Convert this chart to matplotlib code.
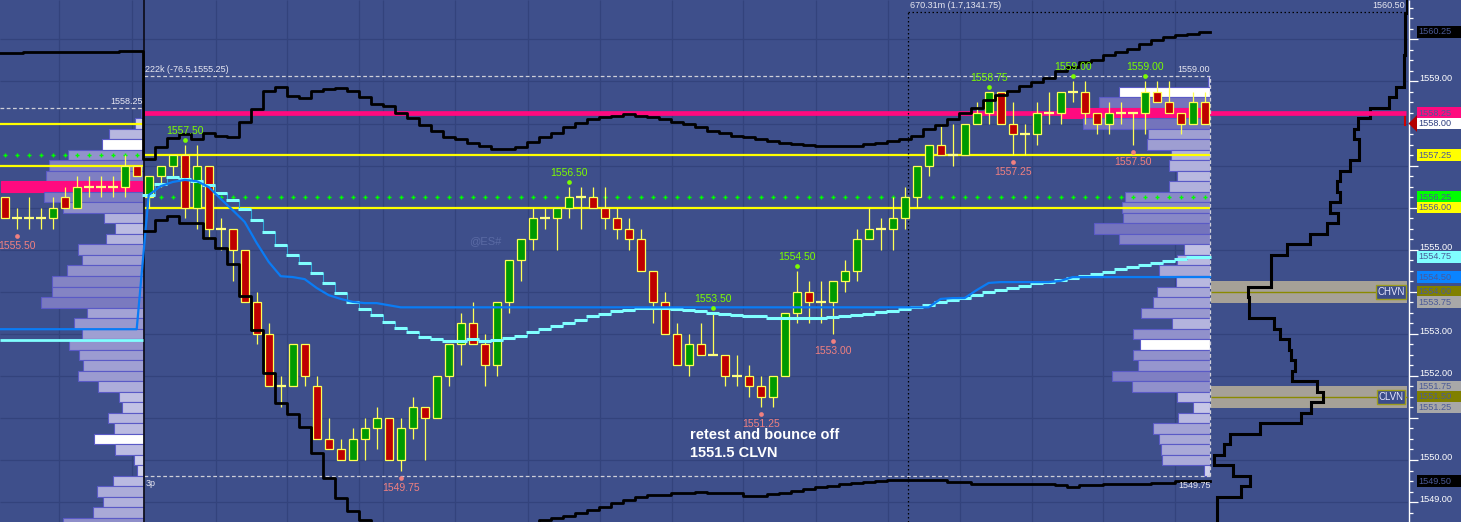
import numpy as np
import matplotlib
matplotlib.use("Agg")
import matplotlib.pyplot as plt
from matplotlib.patches import Rectangle, Polygon
from matplotlib.colors import to_rgb

plt.rcParams["font.family"] = ["Liberation Sans", "DejaVu Sans"]

# ---------------------------------------------------------------- data
# tail of the previous session (12 bars)
prev_open = [1556.25, 1555.75, 1555.75, 1555.75, 1555.75, 1556.25, 1556.0, 1556.5, 1556.5, 1556.5, 1556.5, 1557.0]
prev_high = [1556.25, 1556.0, 1556.25, 1556.0, 1556.25, 1556.5, 1556.75, 1556.75, 1556.75, 1556.75, 1557.25, 1557.0]
prev_low = [1555.75, 1555.5, 1555.5, 1555.5, 1555.5, 1556.0, 1556.0, 1556.25, 1556.25, 1556.25, 1556.25, 1556.75]
prev_close = [1555.75, 1555.75, 1555.75, 1555.75, 1556.0, 1556.0, 1556.5, 1556.5, 1556.5, 1556.5, 1557.0, 1556.75]

# current session (89 bars)
sess_open = [
    1556.25, 1556.75, 1557.0, 1557.25, 1556.0, 1557.0, 1555.5, 1555.5, 1555.0, 1553.75,
    1553.0, 1551.75, 1551.75, 1552.75, 1551.75, 1550.5, 1550.25, 1550.0, 1550.5, 1550.75,
    1551.0, 1550.0, 1550.75, 1551.25, 1551.0, 1552.0, 1552.75, 1553.25, 1552.75, 1552.25,
    1553.75, 1554.75, 1555.25, 1555.75, 1555.75, 1556.0, 1556.25, 1556.25, 1556.0, 1555.75,
    1555.5, 1555.25, 1554.5, 1553.75, 1553.0, 1552.25, 1552.75, 1552.5, 1552.5, 1552.0,
    1552.0, 1551.75, 1551.5, 1552.0, 1553.5, 1554.0, 1553.75, 1553.75, 1554.25, 1554.5,
    1555.25, 1555.5, 1555.5, 1555.75, 1556.25, 1557.0, 1557.5, 1557.25, 1557.25, 1558.0,
    1558.25, 1558.75, 1558.0, 1557.75, 1557.75, 1558.25, 1558.25, 1558.75, 1558.75, 1558.25,
    1558.0, 1558.25, 1558.25, 1558.25, 1558.75, 1558.5, 1558.25, 1558.0, 1558.5]
sess_high = [
    1556.75, 1557.0, 1557.25, 1557.5, 1557.5, 1557.0, 1555.75, 1555.5, 1555.0, 1554.0,
    1553.25, 1552.0, 1552.75, 1552.75, 1552.0, 1551.0, 1550.5, 1550.75, 1551.0, 1551.25,
    1551.0, 1551.0, 1551.5, 1551.25, 1552.0, 1552.75, 1553.5, 1553.75, 1553.0, 1553.75,
    1554.75, 1555.25, 1556.0, 1556.0, 1556.0, 1556.5, 1556.5, 1556.5, 1556.5, 1556.0,
    1555.75, 1555.5, 1554.5, 1554.0, 1553.25, 1553.0, 1553.25, 1553.5, 1552.5, 1552.5,
    1552.25, 1552.0, 1552.0, 1553.5, 1554.5, 1554.25, 1554.25, 1554.25, 1554.75, 1555.5,
    1556.0, 1555.75, 1556.25, 1556.5, 1557.0, 1557.5, 1558.0, 1558.0, 1558.0, 1558.5,
    1558.75, 1558.75, 1558.5, 1558.0, 1558.5, 1558.75, 1558.75, 1559.0, 1559.0, 1558.25,
    1558.5, 1558.5, 1558.25, 1559.0, 1559.0, 1559.0, 1558.25, 1558.75, 1558.75]
sess_low = [
    1556.0, 1556.5, 1556.75, 1555.75, 1555.5, 1555.25, 1555.0, 1554.25, 1553.75, 1552.75,
    1551.75, 1551.25, 1551.75, 1551.75, 1550.5, 1550.25, 1550.0, 1550.0, 1550.0, 1550.25,
    1550.0, 1549.75, 1550.5, 1550.0, 1551.0, 1551.75, 1552.25, 1552.75, 1551.75, 1552.0,
    1553.5, 1554.25, 1555.0, 1555.5, 1555.0, 1555.75, 1555.5, 1556.0, 1555.5, 1555.25,
    1555.0, 1554.5, 1553.25, 1553.0, 1552.25, 1552.0, 1552.5, 1552.5, 1551.75, 1551.75,
    1551.5, 1551.25, 1551.25, 1552.0, 1553.25, 1553.25, 1553.25, 1553.0, 1554.0, 1554.25,
    1555.25, 1555.0, 1555.0, 1555.5, 1556.0, 1556.75, 1557.25, 1557.0, 1557.25, 1558.0,
    1558.0, 1558.0, 1557.25, 1557.25, 1557.5, 1558.0, 1558.0, 1558.5, 1558.0, 1557.75,
    1557.75, 1558.0, 1557.5, 1557.75, 1558.5, 1558.25, 1557.75, 1558.0, 1558.0]
sess_close = [
    1556.75, 1557.0, 1557.25, 1556.0, 1557.0, 1555.5, 1555.5, 1555.0, 1553.75, 1553.0,
    1551.75, 1551.75, 1552.75, 1552.0, 1550.5, 1550.25, 1550.0, 1550.5, 1550.75, 1551.0,
    1550.0, 1550.75, 1551.25, 1551.0, 1552.0, 1552.75, 1553.25, 1552.75, 1552.25, 1553.75,
    1554.75, 1555.25, 1555.75, 1555.75, 1556.0, 1556.25, 1556.25, 1556.0, 1555.75, 1555.5,
    1555.25, 1554.5, 1553.75, 1553.0, 1552.25, 1552.75, 1552.5, 1552.5, 1552.0, 1552.0,
    1551.75, 1551.5, 1552.0, 1553.5, 1554.0, 1553.75, 1553.75, 1554.25, 1554.5, 1555.25,
    1555.5, 1555.5, 1555.75, 1556.25, 1557.0, 1557.5, 1557.25, 1557.25, 1558.0, 1558.25,
    1558.75, 1558.0, 1557.75, 1557.75, 1558.25, 1558.25, 1558.75, 1558.75, 1558.25, 1558.0,
    1558.25, 1558.25, 1558.25, 1558.75, 1558.5, 1558.25, 1558.0, 1558.5, 1558.0]

# stepped VWAP (cyan)
prev_vwap = 1552.86
sess_vwap = [
    1556.30, 1556.56, 1556.73, 1556.68, 1556.63, 1556.54, 1556.35, 1556.18, 1555.97, 1555.71,
    1555.42, 1555.11, 1554.87, 1554.68, 1554.45, 1554.21, 1553.97, 1553.76, 1553.59, 1553.45,
    1553.28, 1553.14, 1553.04, 1552.92, 1552.88, 1552.83, 1552.83, 1552.88, 1552.83, 1552.85,
    1552.90, 1552.95, 1553.04, 1553.11, 1553.19, 1553.26, 1553.33, 1553.42, 1553.47, 1553.54,
    1553.57, 1553.61, 1553.61, 1553.61, 1553.59, 1553.57, 1553.54, 1553.49, 1553.47, 1553.45,
    1553.42, 1553.42, 1553.38, 1553.38, 1553.38, 1553.38, 1553.38, 1553.40, 1553.42, 1553.45,
    1553.47, 1553.52, 1553.54, 1553.59, 1553.64, 1553.68, 1553.76, 1553.80, 1553.85, 1553.92,
    1553.99, 1554.04, 1554.09, 1554.14, 1554.21, 1554.23, 1554.28, 1554.33, 1554.37, 1554.42,
    1554.47, 1554.54, 1554.59, 1554.64, 1554.68, 1554.73, 1554.78, 1554.83, 1554.83]

# developing line (blue)
prev_blue = 1553.11
sess_blue = [
    1556.30, 1556.51, 1556.61, 1556.66, 1556.63, 1556.49, 1556.21, 1555.94, 1555.66, 1555.16,
    1554.71, 1554.37, 1554.35, 1554.30, 1554.09, 1553.92, 1553.83, 1553.76, 1553.73, 1553.73,
    1553.68, 1553.63, 1553.63, 1553.63, 1553.63, 1553.63, 1553.63, 1553.63, 1553.63, 1553.63,
    1553.63, 1553.63, 1553.63, 1553.63, 1553.63, 1553.63, 1553.63, 1553.63, 1553.63, 1553.63,
    1553.63, 1553.63, 1553.63, 1553.63, 1553.63, 1553.63, 1553.63, 1553.63, 1553.63, 1553.63,
    1553.63, 1553.63, 1553.63, 1553.63, 1553.63, 1553.63, 1553.63, 1553.63, 1553.63, 1553.63,
    1553.63, 1553.63, 1553.63, 1553.63, 1553.63, 1553.63, 1553.83, 1553.85, 1553.85, 1554.04,
    1554.21, 1554.23, 1554.23, 1554.23, 1554.23, 1554.23, 1554.26, 1554.35, 1554.35, 1554.35,
    1554.35, 1554.35, 1554.35, 1554.35, 1554.35, 1554.35, 1554.35, 1554.35, 1554.35]

# black indicator lines (plotted on price scale)
upper_prev = [1559.68, 1559.68, 1559.70, 1559.70, 1559.70, 1559.70, 1559.70, 1559.70, 1559.70, 1559.70, 1559.72, 1559.72]
upper_sess = [
    1557.16, 1557.44, 1557.66, 1557.75, 1557.63, 1557.77, 1557.70, 1557.68, 1558.04, 1558.35,
    1558.77, 1558.87, 1558.65, 1558.61, 1558.77, 1558.82, 1558.84, 1558.77, 1558.63, 1558.46,
    1558.42, 1558.25, 1558.13, 1557.96, 1557.82, 1557.68, 1557.63, 1557.54, 1557.47, 1557.39,
    1557.39, 1557.44, 1557.56, 1557.68, 1557.77, 1557.92, 1558.01, 1558.11, 1558.15, 1558.18,
    1558.23, 1558.18, 1558.15, 1558.11, 1558.04, 1557.99, 1557.92, 1557.82, 1557.77, 1557.70,
    1557.68, 1557.63, 1557.58, 1557.54, 1557.51, 1557.49, 1557.47, 1557.47, 1557.47, 1557.47,
    1557.51, 1557.54, 1557.58, 1557.63, 1557.70, 1557.87, 1557.96, 1558.11, 1558.25, 1558.37,
    1558.56, 1558.68, 1558.77, 1558.89, 1558.99, 1559.08, 1559.25, 1559.34, 1559.46, 1559.51,
    1559.63, 1559.70, 1559.77, 1559.89, 1559.99, 1560.06, 1560.10, 1560.13, 1560.18]
lower_sess = [
    1555.44, 1555.71, 1555.80, 1555.63, 1555.63, 1555.28, 1555.04, 1554.66, 1553.90, 1553.09,
    1552.07, 1551.36, 1551.09, 1550.78, 1550.17, 1549.57, 1549.10, 1548.79, 1548.57, 1548.30,
    1548.20, 1548.10, 1548.00, 1548.00, 1547.95, 1547.95, 1548.00, 1548.05, 1548.10, 1548.20,
    1548.30, 1548.40, 1548.45, 1548.57, 1548.62, 1548.67, 1548.74, 1548.81, 1548.88, 1548.98,
    1549.05, 1549.12, 1549.17, 1549.17, 1549.22, 1549.22, 1549.24, 1549.22, 1549.22, 1549.22,
    1549.14, 1549.14, 1549.19, 1549.22, 1549.26, 1549.31, 1549.36, 1549.38, 1549.43, 1549.45,
    1549.48, 1549.50, 1549.52, 1549.52, 1549.52, 1549.52, 1549.52, 1549.48, 1549.48, 1549.43,
    1549.43, 1549.43, 1549.43, 1549.43, 1549.43, 1549.43, 1549.41, 1549.36, 1549.41, 1549.41,
    1549.43, 1549.43, 1549.43, 1549.43, 1549.45, 1549.45, 1549.50, 1549.50, 1549.50]

# levels
prev_vah, prev_val, prev_green = 1558.0, 1557.0, 1557.25
prev_high_line = 1558.25
sess_vah, sess_val, sess_green = 1557.25, 1556.0, 1556.25
sess_poc = 1558.25
last_price = 1558.00
chvn, clvn = 1554.0, 1551.5

# previous-session volume profile (price, width)
lp_prices = [1558.25, 1558.0, 1557.75, 1557.5, 1557.25, 1557.0, 1556.75, 1556.5, 1556.25, 1556.0,
             1555.75, 1555.5, 1555.25, 1555.0, 1554.75, 1554.5, 1554.25, 1554.0, 1553.75, 1553.5,
             1553.25, 1553.0, 1552.75, 1552.5, 1552.25, 1552.0, 1551.75, 1551.5, 1551.25, 1551.0,
             1550.75, 1550.5, 1550.25, 1550.0, 1549.75, 1549.5, 1549.25, 1549.0, 1548.75, 1548.5]
lp_vol = [3, 9, 35, 42, 76, 95, 98, 143, 100, 81,
          40, 29, 38, 66, 62, 77, 92, 92, 103, 57,
          70, 62, 75, 65, 61, 66, 46, 25, 22, 36,
          30, 50, 29, 10, 7, 31, 47, 41, 51, 81]
lp_white = [1557.5, 1550.5]
lp_poc = 1556.5

# current-session volume profile
sp_prices = [1559.0, 1558.75, 1558.5, 1558.25, 1558.0, 1557.75, 1557.5, 1557.25, 1557.0, 1556.75,
             1556.5, 1556.25, 1556.0, 1555.75, 1555.5, 1555.25, 1555.0, 1554.75, 1554.5, 1554.25,
             1554.0, 1553.75, 1553.5, 1553.25, 1553.0, 1552.75, 1552.5, 1552.25, 1552.0, 1551.75,
             1551.5, 1551.25, 1551.0, 1550.75, 1550.5, 1550.25, 1550.0, 1549.75]
sp_vol = [2, 91, 111, 148, 127, 62, 63, 39, 41, 33,
          41, 85, 88, 87, 116, 91, 26, 33, 51, 34,
          53, 57, 69, 38, 77, 70, 77, 72, 98, 78,
          33, 17, 32, 57, 51, 49, 48, 6]
sp_white = [1558.75, 1552.75]

# composite profile outline (right panel)
comp_prices = [1561.0, 1560.75, 1560.5, 1560.25, 1560.0, 1559.75, 1559.5, 1559.25, 1559.0, 1558.75,
               1558.5, 1558.25, 1558.0, 1557.75, 1557.5, 1557.25, 1557.0, 1556.75, 1556.5, 1556.25,
               1556.0, 1555.75, 1555.5, 1555.25, 1555.0, 1554.75, 1554.5, 1554.25, 1554.0, 1553.75,
               1553.5, 1553.25, 1553.0, 1552.75, 1552.5, 1552.25, 1552.0, 1551.75, 1551.5, 1551.25,
               1551.0, 1550.75, 1550.5, 1550.25, 1550.0, 1549.75, 1549.5, 1549.25, 1549.0, 1548.75, 1548.5]
comp_vals = [197, 197, 195, 195, 195, 195, 194, 194, 194, 186,
             179, 160, 148, 144, 149, 149, 140, 130, 127, 130,
             120, 128, 117, 100, 77, 61, 61, 61, 38, 39,
             39, 64, 70, 79, 81, 85, 82, 107, 113, 101,
             91, 50, 20, 14, 4, 23, 40, 31, 7, 7, 7]

hi_label_bars = [3, 35, 47, 54, 70, 77, 83]
lo_label_bars = [21, 51, 57, 72, 82]
prev_lo_label_bars = [1]

axis_tags = [
    ("1560.25", upper_sess[-1], "#000000"),
    ("1558.25", sess_poc, "#FF0A7F"),
    ("1558.00", last_price, "#FFFFFF"),
    ("1557.25", sess_vah, "#FFFF00"),
    ("1556.25", sess_green, "#00FF00"),
    ("1556.00", sess_val, "#FFFF00"),
    ("1554.75", sess_vwap[-1], "#80FFFF"),
    ("1554.50", sess_blue[-1], "#0A84FF"),
    ("1554.00", chvn, "#808000"),
    ("1553.75", chvn - 0.25, "#A8A8A8"),
    ("1551.75", clvn + 0.25, "#A8A8A8"),
    ("1551.50", clvn, "#808000"),
    ("1551.25", clvn - 0.25, "#A8A8A8"),
    ("1549.50", lower_sess[-1], "#000000"),
]

# ---------------------------------------------------------------- style / layout
W, H, DPI = 1461, 522, 100
BG = "#3E4F8B"
GRID = "#33437C"
PINK = "#FF0A7F"
YEL = "#FFFF00"
WICK = "#FFFF55"
GREEN = "#009A00"
RED = "#BE0000"
CYAN = "#80FFFF"
BLUE = "#0A7CF5"
LGREEN = "#7CFC00"
LRED = "#F08080"
PEDGE = "#5A5AC6"
LIGHT = np.array(to_rgb("#D6D6EF"))
DARK = np.array(to_rgb("#7474BC"))

YBOT, YTOP = 1548.526, 1560.937
PXU = H / (YTOP - YBOT)          # pixels per price unit
SLOT, X0 = 12.0, 4.7             # pixels per bar, centre of first bar


def hx(px):
    return (px - X0) / SLOT


XL, XR = hx(0), hx(1408)
fig = plt.figure(figsize=(W / DPI, H / DPI), dpi=DPI, facecolor=BG)


def mk(rect, xlim, z):
    a = fig.add_axes(rect, zorder=z)
    a.set_xlim(*xlim)
    a.set_ylim(YBOT, YTOP)
    a.set_axis_off()
    return a


def ptext(x, y, s, **kw):
    fig.text(x / W, 1 - y / H, s, **kw)


ax_bg = mk([0, 0, 1408 / W, 1], (XL, XR), 0)
ax_lp = mk([0, 0, 143.5 / W, 1], (143.5, 0), 1)
ax_sp = mk([1010 / W, 0, 200 / W, 1], (200, 0), 1)
ax_c = mk([1210 / W, 0, 198 / W, 1], (0, 198), 1)
ax = mk([0, 0, 1408 / W, 1], (XL, XR), 2)
ax_r = mk([1408 / W, 0, 53 / W, 1], (0, 53), 3)

# grid
grid_idx = [4.5, 10.6, 17.6, 23.5, 29.5, 31.5, 37.5, 43.6, 49.6, 55.6, 61.5,
            67.6, 73.6, 79.6, 85.6, 91.5, 97.5]
ax_bg.hlines(np.arange(1549, 1561), XL, XR, color=GRID, lw=0.9)
ax_bg.vlines(grid_idx, YBOT, YTOP, color=GRID, lw=0.9)


# profiles
def draw_profile(a, prices, vols, whites, poc):
    fcs, ecs = [], []
    for p, v in zip(prices, vols):
        if poc is not None and np.isclose(p, poc):
            fcs.append(PINK); ecs.append(PINK)
        elif any(np.isclose(p, w) for w in whites):
            fcs.append("white"); ecs.append(PEDGE)
        else:
            t = min(v / 110.0, 1.0)
            fcs.append(tuple(LIGHT * (1 - t) + DARK * t)); ecs.append(PEDGE)
    a.barh(prices, vols, height=0.25, color=fcs, edgecolor=ecs, linewidth=0.8)


draw_profile(ax_lp, lp_prices, lp_vol, lp_white, lp_poc)
draw_profile(ax_sp, sp_prices, sp_vol, sp_white, sess_poc)

# composite panel
for lvl in (chvn, clvn):
    ax_c.add_patch(Rectangle((0.8, lvl - 0.26), 196.5, 0.52, facecolor="#A6A197",
                             edgecolor="none", zorder=0))
    ax_c.hlines(lvl, 0.8, 197, color="#8A8A00", lw=1.0, zorder=1)
cx, cy = [], []
for p, v in zip(comp_prices, comp_vals):
    cx += [v, v]
    cy += [p + 0.125, p - 0.125]
ax_c.plot(cx, cy, color="black", lw=2.2, zorder=3, solid_joinstyle="miter")
for lvl, name in ((chvn, "CHVN"), (clvn, "CLVN")):
    ax_c.text(181, lvl, name, ha="center", va="center", fontsize=7, color="#E8E8FF", zorder=4,
              bbox=dict(boxstyle="square,pad=0.18", fc="#3B4C8A", ec="#9C9C1E", lw=1))
ax_c.plot([189, 195, 195], [sess_poc, sess_poc, last_price - 0.03], color="#D00000", lw=1.5, zorder=4)

# ---------------------------------------------------------------- main overlay
prev_x = np.arange(len(prev_open))
sess_x = len(prev_open) + np.arange(len(sess_open))
SEP = hx(144)
PEND = hx(1210)

# levels
ax.hlines(sess_poc, SEP, hx(1406), color=PINK, lw=3.4, zorder=2)
ax.hlines([prev_vah, prev_val], XL, SEP - 0.05, color=YEL, lw=1.6, zorder=3)
ax.hlines([sess_vah, sess_val], SEP, PEND, color=YEL, lw=1.6, zorder=3)
ax.plot(prev_x, [prev_green] * len(prev_x), "+", color="#00FF00", ms=3.5, mew=1.0, zorder=3)
ax.plot(sess_x, [sess_green] * len(sess_x), "+", color="#00FF00", ms=3.5, mew=1.0, zorder=3)

# session high / low dashed
s_hi, s_lo = max(sess_high), min(sess_low)
dash = dict(color="#CFCFD8", lw=0.9, ls=(0, (3, 2)), zorder=3)
ax.hlines(s_hi + 0.125, SEP, PEND, **dash)
ax.hlines(s_lo - 0.125, SEP, PEND, **dash)
ax.hlines(prev_high_line + 0.125, XL, SEP - 0.05, **dash)
ax.vlines(SEP - 0.05, prev_high_line + 0.125, s_hi + 0.125, **dash)
ax.vlines(PEND, s_lo - 0.125, s_hi + 0.125, **dash)

# separator and drawing-tool dotted lines
ax.vlines(SEP, YBOT, YTOP, color="#101020", lw=1.3, zorder=4)
top_dot = 1558.25 + (113 - 12) / PXU
ax.vlines(hx(908), YBOT, top_dot, color="black", lw=0.9, ls=(0, (1.2, 2)), zorder=4)
ax.hlines(top_dot, hx(908), hx(1406), color="black", lw=0.9, ls=(0, (1.2, 2)), zorder=4)


# candles
def draw_candles(xs, o, h, l, c):
    for x, oo, hh, ll, cc in zip(xs, o, h, l, c):
        ax.vlines(x, ll, hh, color=WICK, lw=0.9, zorder=5)
        if oo == cc:
            ax.hlines(oo, x - 0.42, x + 0.42, color="#FFFF80", lw=1.6, zorder=6)
        else:
            col = GREEN if cc > oo else RED
            ax.add_patch(Rectangle((x - 0.34, min(oo, cc)), 0.68, abs(cc - oo),
                                   facecolor=col, edgecolor=WICK, lw=0.9, zorder=6))


draw_candles(prev_x, prev_open, prev_high, prev_low, prev_close)
draw_candles(sess_x, sess_open, sess_high, sess_low, sess_close)

# cyan stepped vwap
ax.hlines(prev_vwap, XL, SEP - 0.05, color=CYAN, lw=2.0, zorder=7)
ax.plot(sess_x, sess_vwap, drawstyle="steps-mid", color="#2FA6D8", lw=0.8, zorder=7)
ax.hlines(sess_vwap, sess_x - 0.52, sess_x + 0.52, color=CYAN, lw=2.2, zorder=7)

# blue developing line
bx = np.concatenate([[XL], prev_x, sess_x, [PEND]])
by = np.concatenate([[prev_blue], [prev_blue] * len(prev_x), sess_blue, [sess_blue[-1]]])
ax.plot(bx, by, color=BLUE, lw=1.6, zorder=7)

# black indicator step lines
ux = np.concatenate([[XL], prev_x, sess_x, [sess_x[-1] + 0.45]])
uy = np.concatenate([[upper_prev[0]], upper_prev, upper_sess, [upper_sess[-1]]])
ax.plot(ux, uy, drawstyle="steps-mid", color="black", lw=2.0, zorder=8)
lx = np.concatenate([[SEP], sess_x, [sess_x[-1] + 0.45]])
ly = np.concatenate([[lower_sess[0]], lower_sess, [lower_sess[-1]]])
ax.plot(lx, ly, drawstyle="steps-mid", color="black", lw=2.0, zorder=8)

# high / low labels
for k in hi_label_bars:
    x, v = sess_x[k], sess_high[k]
    ax.plot(x, v + 5 / PXU, "o", ms=3.4, color=LGREEN, mec="none", zorder=9)
    ax.text(x, v + 14 / PXU, f"{v:.2f}", ha="center", va="center", fontsize=7.5, color=LGREEN, zorder=9)
for k in lo_label_bars:
    x, v = sess_x[k], sess_low[k]
    ax.plot(x, v - 7 / PXU, "o", ms=3.4, color=LRED, mec="none", zorder=9)
    ax.text(x, v - 17 / PXU, f"{v:.2f}", ha="center", va="center", fontsize=7.5, color=LRED, zorder=9)
for k in prev_lo_label_bars:
    x, v = prev_x[k], prev_low[k]
    ax.plot(x, v - 7 / PXU, "o", ms=3.4, color=LRED, mec="none", zorder=9)
    ax.text(x, v - 17 / PXU, f"{v:.2f}", ha="center", va="center", fontsize=7.5, color=LRED, zorder=9)

# ---------------------------------------------------------------- price axis
ax_r.vlines(0.5, YBOT, YTOP, color="white", lw=1.0)
tag_pos = [t[1] for t in axis_tags]
for p in np.arange(1548.5, 1561.01, 0.25):
    if abs(p - round(p)) < 1e-6:
        ax_r.hlines(p, 0.5, 10, color="white", lw=0.9)
        ly_ = p + 2.5 / PXU
        if ly_ + 6 / PXU > YTOP:
            continue
        if min(abs(ly_ - tp) for tp in tag_pos) * PXU < 9.5:
            continue
        ax_r.text(11, ly_, f"{p:.2f}", ha="left", va="center", fontsize=6.6, color="white")
    else:
        ax_r.hlines(p, 0.5, 5, color="white", lw=0.9)
for txt, pos, col in axis_tags:
    ax_r.add_patch(Rectangle((8.7, pos - 5.8 / PXU), 44.3, 11.6 / PXU, facecolor=col,
                             edgecolor="none", zorder=5))
    tc = "#2E3E80" if col == "#FFFFFF" else "#4B5A98"
    ax_r.text(10.5, pos, txt, ha="left", va="center", fontsize=6.6, color=tc, zorder=6)
ax_r.add_patch(Polygon([(0.5, last_price), (9, last_price + 0.2), (9, last_price - 0.2)],
                       closed=True, facecolor="#B40000", edgecolor="none", zorder=7))

# ---------------------------------------------------------------- annotations
WT = "#E8E8F2"
ptext(145, 70, "222k (-76.5,1555.25)", ha="left", va="center", fontsize=6.5, color=WT)
ptext(143, 101, "1558.25", ha="right", va="center", fontsize=6.5, color=WT)
ptext(1210, 70, "1559.00", ha="right", va="center", fontsize=6.5, color=WT)
ptext(1211, 485, "1549.75", ha="right", va="center", fontsize=6.5, color=WT)
ptext(146, 483, "3p", ha="left", va="center", fontsize=6.5, color=WT)
ptext(910, 6, "670.31m (1.7,1341.75)", ha="left", va="center", fontsize=6.5, color=WT)
ptext(1405, 6, "1560.50", ha="right", va="center", fontsize=6.5, color=WT)
ptext(485, 241, "@ES#", ha="center", va="center", fontsize=8, color="#5A6AA4")
ptext(690, 435, "retest and bounce off", ha="left", va="center", fontsize=10.5,
      fontweight="bold", color="white")
ptext(690, 453, "1551.5 CLVN", ha="left", va="center", fontsize=10.5,
      fontweight="bold", color="white")

fig.savefig("out.png", dpi=DPI, facecolor=BG)
